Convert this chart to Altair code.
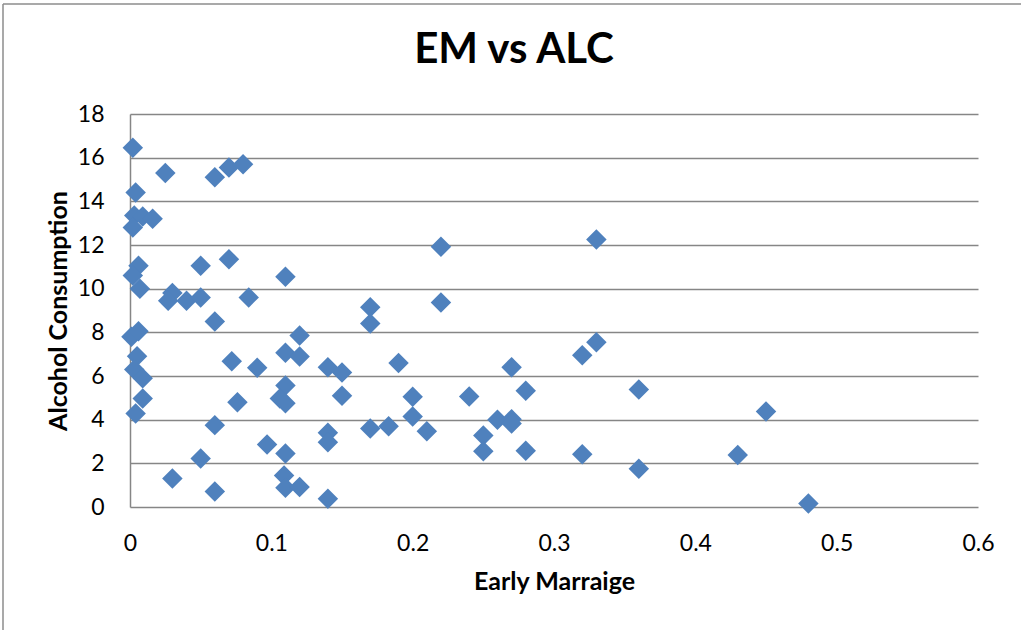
import altair as alt
import pandas as pd

# Early marriage rate vs alcohol consumption, one entry per country
early_marriage = [
    0.002, 0.025, 0.06, 0.07, 0.08, 0.004, 0.003, 0.009, 0.016, 0.002,
    0.006, 0.002, 0.007, 0.05, 0.07, 0.11, 0.03, 0.027, 0.04, 0.05,
    0.084, 0.06, 0.001, 0.006, 0.005, 0.003, 0.009, 0.009, 0.004, 0.072,
    0.09, 0.11, 0.11, 0.106, 0.11, 0.076, 0.06, 0.097, 0.11, 0.05,
    0.03, 0.06, 0.109, 0.11, 0.12, 0.14, 0.17, 0.17, 0.12, 0.12,
    0.14, 0.15, 0.19, 0.15, 0.2, 0.2, 0.17, 0.183, 0.21, 0.14,
    0.14, 0.22, 0.33, 0.22, 0.33, 0.32, 0.27, 0.24, 0.28, 0.36,
    0.26, 0.27, 0.27, 0.25, 0.25, 0.28, 0.32, 0.36, 0.45, 0.43,
    0.48,
]
alcohol = [
    16.45, 15.3, 15.1, 15.55, 15.7, 14.4, 13.35, 13.3, 13.2, 12.8,
    11.05, 10.6, 10.0, 11.05, 11.35, 10.55, 9.8, 9.45, 9.45, 9.6,
    9.6, 8.5, 7.8, 8.05, 6.9, 6.3, 5.9, 4.97, 4.28, 6.67,
    6.38, 7.07, 5.56, 4.97, 4.75, 4.8, 3.75, 2.86, 2.45, 2.22,
    1.3, 0.71, 1.44, 0.88, 0.92, 0.38, 9.15, 8.4, 7.85, 6.89,
    6.4, 6.16, 6.6, 5.1, 5.05, 4.15, 3.6, 3.7, 3.47, 3.4,
    2.97, 11.92, 12.25, 9.37, 7.55, 6.95, 6.4, 5.06, 5.33, 5.38,
    4.0, 4.02, 3.82, 3.27, 2.55, 2.58, 2.42, 1.75, 4.37, 2.38,
    0.16,
]
x_ticks = [0, 0.1, 0.2, 0.3, 0.4, 0.5, 0.6]
y_ticks = [0, 2, 4, 6, 8, 10, 12, 14, 16, 18]

df = pd.DataFrame({"em": early_marriage, "alc": alcohol})

FONT = "Lato"
GRID = "#868686"

points = alt.Chart(df).mark_point(
    shape="diamond", filled=True, size=420, color="#4F81BD", opacity=1
).encode(
    x=alt.X(
        "em:Q",
        title="Early Marraige",
        scale=alt.Scale(domain=[0, 0.6], nice=False, zero=True),
        axis=alt.Axis(
            values=x_ticks, format="~g", grid=False, ticks=False,
            domain=False, labelFlush=False, labelPadding=25, titlePadding=14,
        ),
    ),
    y=alt.Y(
        "alc:Q",
        title="Alcohol Consumption",
        scale=alt.Scale(domain=[0, 18], nice=False),
        axis=alt.Axis(
            values=y_ticks, grid=True, ticks=False, domain=True,
            labelFlush=False, labelPadding=26, titlePadding=6,
        ),
    ),
)

# outer chart frame (top and left edges)
frame_top = alt.Chart().mark_rule(color="#8c8c8c", strokeWidth=1.5).encode(
    x=alt.value(-127), x2=alt.value(900), y=alt.value(-110)
)
frame_left = alt.Chart().mark_rule(color="#8c8c8c", strokeWidth=1.5).encode(
    x=alt.value(-127), y=alt.value(-110), y2=alt.value(530)
)

chart = alt.layer(frame_top, frame_left, points).properties(
    width=848,
    height=393,
    autosize=alt.AutoSizeParams(type="none"),
    padding={"left": 130, "top": 114, "right": 43, "bottom": 123},
    title=alt.TitleParams(
        "EM vs ALC", font=FONT, fontSize=42, fontWeight="bold", color="#000000",
        frame="group", anchor="middle", baseline="alphabetic", offset=0,
        dx=-40, dy=102,
    ),
).configure(background="white").configure_view(stroke=None).configure_axis(
    labelFont=FONT, labelFontSize=23, labelColor="#000000",
    titleFont=FONT, titleFontSize=25, titleFontWeight="bold", titleColor="#000000",
    gridColor=GRID, gridWidth=1.5, gridOpacity=1,
    domainColor=GRID, domainWidth=1.5,
)

chart.save("out.html", embed_options={"renderer": "svg", "actions": False})
